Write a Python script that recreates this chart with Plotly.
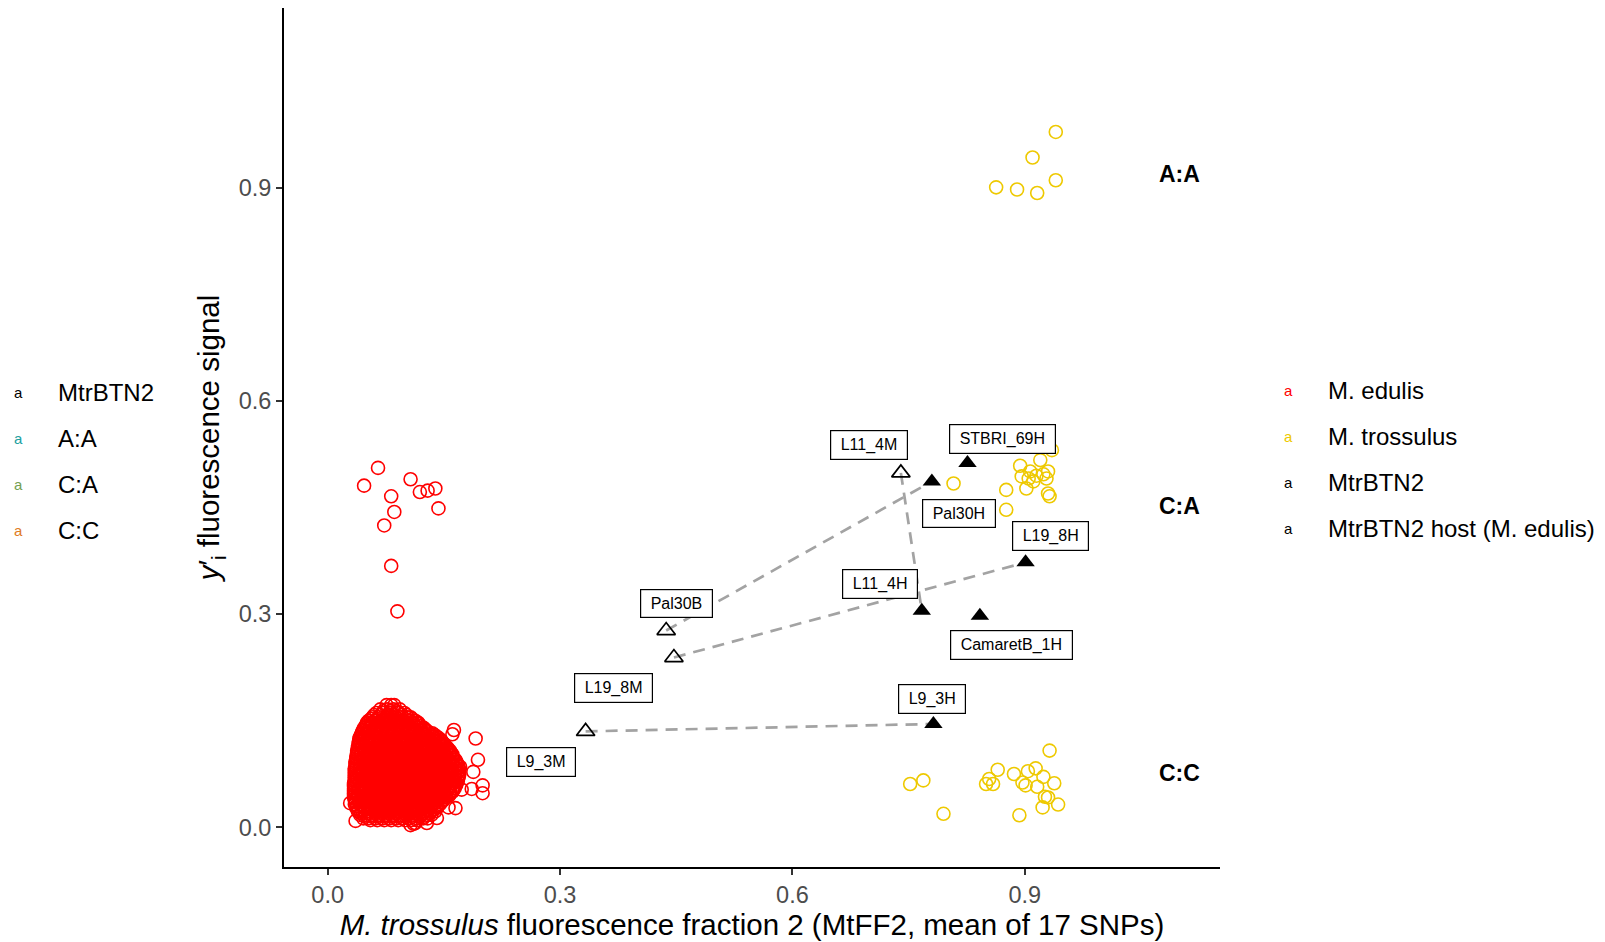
import plotly.graph_objects as go

# ---- data -------------------------------------------------------------------
# M. edulis: dense core written row by row (y of row, x values in row)
edulis_core_y = [0.172, 0.166, 0.161, 0.155, 0.150, 0.145, 0.140, 0.135, 0.130, 0.125,
                 0.120, 0.115, 0.110, 0.105, 0.100, 0.095, 0.090, 0.085, 0.080, 0.075,
                 0.070, 0.065, 0.060, 0.055, 0.050, 0.045, 0.040, 0.035, 0.030, 0.025,
                 0.020, 0.015, 0.010,
                 0.1635, 0.158, 0.1525, 0.1475, 0.1425, 0.1375, 0.1325, 0.1275, 0.1225,
                 0.1175, 0.1125, 0.1075, 0.1025, 0.0975, 0.0925, 0.0875, 0.0825, 0.0775,
                 0.0725, 0.0675, 0.0625, 0.0575, 0.0525, 0.0475, 0.0425, 0.0375, 0.0325,
                 0.0275, 0.0225, 0.0175, 0.0125]
edulis_core_x = [
    [0.076, 0.086],
    [0.068, 0.077, 0.085, 0.093],
    [0.063, 0.072, 0.081, 0.090, 0.099],
    [0.058, 0.066, 0.076, 0.085, 0.094, 0.103, 0.107],
    [0.053, 0.062, 0.071, 0.080, 0.089, 0.098, 0.106, 0.113],
    [0.050, 0.058, 0.067, 0.076, 0.085, 0.093, 0.102, 0.111, 0.118],
    [0.047, 0.055, 0.063, 0.072, 0.081, 0.090, 0.098, 0.107, 0.116, 0.124],
    [0.045, 0.051, 0.060, 0.068, 0.077, 0.086, 0.094, 0.103, 0.112, 0.121, 0.129],
    [0.043, 0.048, 0.056, 0.065, 0.073, 0.082, 0.091, 0.099, 0.108, 0.117, 0.126, 0.134, 0.138],
    [0.041, 0.046, 0.053, 0.061, 0.070, 0.079, 0.087, 0.096, 0.104, 0.113, 0.122, 0.130, 0.139, 0.144],
    [0.040, 0.049, 0.057, 0.066, 0.075, 0.083, 0.092, 0.101, 0.109, 0.118, 0.127, 0.135, 0.143, 0.148],
    [0.040, 0.045, 0.054, 0.062, 0.071, 0.079, 0.088, 0.097, 0.105, 0.114, 0.123, 0.131, 0.140, 0.148, 0.152],
    [0.039, 0.049, 0.058, 0.067, 0.075, 0.084, 0.093, 0.101, 0.110, 0.119, 0.127, 0.136, 0.145, 0.153, 0.156],
    [0.038, 0.044, 0.053, 0.062, 0.071, 0.080, 0.088, 0.097, 0.106, 0.114, 0.123, 0.132, 0.140, 0.149, 0.157, 0.159],
    [0.037, 0.048, 0.057, 0.066, 0.075, 0.084, 0.092, 0.101, 0.110, 0.118, 0.127, 0.136, 0.144, 0.153, 0.161],
    [0.037, 0.043, 0.052, 0.061, 0.070, 0.079, 0.088, 0.096, 0.105, 0.114, 0.122, 0.131, 0.140, 0.148, 0.157, 0.165],
    [0.036, 0.047, 0.056, 0.065, 0.074, 0.083, 0.092, 0.100, 0.109, 0.118, 0.126, 0.135, 0.144, 0.152, 0.161, 0.167],
    [0.036, 0.042, 0.051, 0.060, 0.069, 0.078, 0.087, 0.096, 0.104, 0.113, 0.122, 0.130, 0.139, 0.148, 0.156, 0.164, 0.169],
    [0.035, 0.046, 0.055, 0.064, 0.073, 0.082, 0.091, 0.100, 0.108, 0.117, 0.126, 0.134, 0.143, 0.152, 0.160, 0.170],
    [0.035, 0.041, 0.050, 0.059, 0.068, 0.077, 0.086, 0.095, 0.104, 0.112, 0.121, 0.130, 0.138, 0.147, 0.156, 0.164, 0.170],
    [0.035, 0.046, 0.055, 0.064, 0.073, 0.082, 0.091, 0.099, 0.108, 0.117, 0.125, 0.134, 0.143, 0.151, 0.160, 0.169],
    [0.035, 0.041, 0.050, 0.059, 0.068, 0.077, 0.086, 0.095, 0.103, 0.112, 0.121, 0.129, 0.138, 0.147, 0.155, 0.164, 0.168],
    [0.034, 0.045, 0.054, 0.063, 0.072, 0.081, 0.090, 0.099, 0.107, 0.116, 0.125, 0.133, 0.142, 0.151, 0.159, 0.166],
    [0.034, 0.040, 0.049, 0.058, 0.067, 0.076, 0.085, 0.094, 0.102, 0.111, 0.120, 0.128, 0.137, 0.146, 0.154, 0.162, 0.164],
    [0.034, 0.044, 0.053, 0.062, 0.071, 0.080, 0.089, 0.098, 0.106, 0.115, 0.124, 0.132, 0.141, 0.150, 0.158, 0.161],
    [0.034, 0.040, 0.049, 0.058, 0.067, 0.076, 0.084, 0.093, 0.102, 0.110, 0.119, 0.128, 0.136, 0.145, 0.153, 0.157],
    [0.035, 0.044, 0.053, 0.062, 0.071, 0.080, 0.089, 0.097, 0.106, 0.115, 0.123, 0.132, 0.141, 0.150],
    [0.036, 0.041, 0.050, 0.059, 0.067, 0.076, 0.085, 0.094, 0.102, 0.111, 0.120, 0.128, 0.137, 0.146],
    [0.038, 0.046, 0.055, 0.064, 0.072, 0.081, 0.090, 0.099, 0.107, 0.116, 0.125, 0.133, 0.142],
    [0.040, 0.049, 0.058, 0.067, 0.076, 0.085, 0.093, 0.102, 0.111, 0.119, 0.128, 0.137],
    [0.043, 0.053, 0.062, 0.071, 0.080, 0.089, 0.098, 0.106, 0.115, 0.124, 0.132],
    [0.048, 0.057, 0.066, 0.075, 0.084, 0.093, 0.101, 0.110, 0.119, 0.125],
    [0.055, 0.064, 0.073, 0.082, 0.091, 0.100, 0.108, 0.115],
    # in-between rows
    [0.072, 0.081, 0.089],
    [0.060, 0.068, 0.077, 0.086, 0.095, 0.102],
    [0.056, 0.064, 0.073, 0.082, 0.091, 0.100, 0.109],
    [0.051, 0.058, 0.067, 0.075, 0.084, 0.093, 0.102, 0.110, 0.115],
    [0.049, 0.054, 0.062, 0.071, 0.080, 0.089, 0.097, 0.106, 0.114, 0.120],
    [0.046, 0.059, 0.068, 0.077, 0.085, 0.094, 0.103, 0.112, 0.120, 0.126],
    [0.044, 0.052, 0.060, 0.069, 0.078, 0.086, 0.095, 0.104, 0.113, 0.122, 0.131, 0.135],
    [0.042, 0.050, 0.058, 0.066, 0.075, 0.084, 0.093, 0.101, 0.110, 0.119, 0.128, 0.136, 0.141],
    [0.041, 0.045, 0.053, 0.062, 0.070, 0.079, 0.088, 0.096, 0.105, 0.114, 0.122, 0.131, 0.139, 0.146],
    [0.040, 0.050, 0.058, 0.067, 0.076, 0.085, 0.093, 0.102, 0.111, 0.120, 0.128, 0.137, 0.146, 0.150],
    [0.039, 0.044, 0.053, 0.062, 0.071, 0.080, 0.089, 0.097, 0.106, 0.115, 0.123, 0.132, 0.141, 0.149, 0.154],
    [0.038, 0.049, 0.058, 0.066, 0.075, 0.084, 0.092, 0.101, 0.110, 0.119, 0.127, 0.136, 0.144, 0.153, 0.158],
    [0.038, 0.043, 0.052, 0.061, 0.070, 0.079, 0.088, 0.097, 0.105, 0.114, 0.123, 0.132, 0.140, 0.149, 0.157, 0.161],
    [0.037, 0.048, 0.056, 0.065, 0.074, 0.083, 0.092, 0.100, 0.109, 0.118, 0.127, 0.135, 0.144, 0.153, 0.162],
    [0.036, 0.043, 0.052, 0.061, 0.070, 0.079, 0.087, 0.096, 0.105, 0.113, 0.122, 0.131, 0.140, 0.148, 0.157, 0.166],
    [0.036, 0.047, 0.056, 0.065, 0.073, 0.082, 0.091, 0.100, 0.109, 0.117, 0.126, 0.135, 0.143, 0.152, 0.161, 0.168],
    [0.035, 0.042, 0.051, 0.060, 0.069, 0.078, 0.087, 0.095, 0.104, 0.113, 0.121, 0.130, 0.139, 0.148, 0.156, 0.165, 0.169],
    [0.035, 0.046, 0.055, 0.064, 0.073, 0.082, 0.091, 0.099, 0.108, 0.117, 0.126, 0.134, 0.143, 0.152, 0.160, 0.168],
    [0.035, 0.041, 0.050, 0.059, 0.068, 0.077, 0.086, 0.095, 0.103, 0.112, 0.121, 0.129, 0.138, 0.147, 0.156, 0.165, 0.169],
    [0.035, 0.046, 0.055, 0.063, 0.072, 0.081, 0.090, 0.099, 0.107, 0.116, 0.125, 0.134, 0.142, 0.151, 0.160, 0.167],
    [0.034, 0.041, 0.050, 0.059, 0.068, 0.076, 0.085, 0.094, 0.103, 0.111, 0.120, 0.129, 0.138, 0.146, 0.155, 0.163],
    [0.034, 0.045, 0.054, 0.063, 0.072, 0.081, 0.089, 0.098, 0.107, 0.116, 0.124, 0.133, 0.142, 0.150, 0.159, 0.164],
    [0.034, 0.040, 0.049, 0.058, 0.067, 0.076, 0.085, 0.094, 0.102, 0.111, 0.120, 0.128, 0.137, 0.146, 0.155, 0.162],
    [0.034, 0.045, 0.053, 0.062, 0.071, 0.080, 0.089, 0.098, 0.106, 0.115, 0.124, 0.133, 0.141, 0.150, 0.158],
    [0.034, 0.040, 0.049, 0.058, 0.067, 0.075, 0.084, 0.093, 0.102, 0.110, 0.119, 0.128, 0.137, 0.145, 0.153],
    [0.035, 0.044, 0.053, 0.062, 0.071, 0.080, 0.089, 0.097, 0.106, 0.115, 0.123, 0.132, 0.141, 0.149],
    [0.035, 0.041, 0.050, 0.059, 0.067, 0.076, 0.085, 0.094, 0.102, 0.111, 0.120, 0.128, 0.137, 0.145],
    [0.037, 0.046, 0.055, 0.064, 0.072, 0.081, 0.090, 0.099, 0.107, 0.116, 0.125, 0.133, 0.141],
    [0.039, 0.045, 0.054, 0.063, 0.071, 0.080, 0.089, 0.098, 0.106, 0.115, 0.124, 0.132, 0.139],
    [0.042, 0.049, 0.058, 0.067, 0.076, 0.085, 0.093, 0.102, 0.111, 0.119, 0.128, 0.134],
    [0.046, 0.053, 0.062, 0.071, 0.080, 0.089, 0.097, 0.106, 0.115, 0.123, 0.129],
    [0.051, 0.060, 0.069, 0.078, 0.087, 0.096, 0.104, 0.112, 0.120],
]
# M. edulis: scattered points around the core and the upper group (C:A)
edulis_out_x = [0.082, 0.091, 0.117, 0.125, 0.163, 0.161, 0.191, 0.194, 0.188, 0.200,
                0.200, 0.186, 0.165, 0.111, 0.107, 0.113, 0.036, 0.029, 0.128, 0.141,
                0.156, 0.173, 0.171, 0.145,
                0.065, 0.047, 0.107, 0.082, 0.119, 0.129, 0.139, 0.143, 0.086, 0.073,
                0.082, 0.090]
edulis_out_y = [0.172, 0.162, 0.147, 0.138, 0.137, 0.131, 0.125, 0.095, 0.078, 0.059,
                0.048, 0.054, 0.027, 0.005, 0.003, 0.006, 0.009, 0.034, 0.006, 0.013,
                0.028, 0.053, 0.085, 0.123,
                0.506, 0.481, 0.490, 0.466, 0.472, 0.474, 0.477, 0.449, 0.444, 0.425,
                0.368, 0.304]

# M. trossulus (A:A, C:A, C:C groups)
tross_x = [0.940, 0.910, 0.940, 0.863, 0.890, 0.916,
           0.808, 0.935, 0.920, 0.894, 0.907, 0.930, 0.896, 0.905, 0.915, 0.924,
           0.911, 0.928, 0.902, 0.930, 0.932, 0.876, 0.876,
           0.932, 0.769, 0.752, 0.795, 0.865, 0.854, 0.850, 0.859, 0.886, 0.904,
           0.914, 0.897, 0.901, 0.924, 0.916, 0.938, 0.926, 0.930, 0.923, 0.943, 0.893]
tross_y = [0.979, 0.943, 0.911, 0.901, 0.898, 0.893,
           0.484, 0.531, 0.517, 0.509, 0.501, 0.501, 0.494, 0.491, 0.495, 0.497,
           0.487, 0.491, 0.477, 0.470, 0.466, 0.475, 0.447,
           0.108, 0.066, 0.061, 0.019, 0.081, 0.068, 0.061, 0.061, 0.075, 0.079,
           0.083, 0.063, 0.059, 0.071, 0.057, 0.062, 0.043, 0.042, 0.028, 0.032, 0.017]

# MtrBTN2 (cancer) samples and their hosts
cancer_names = ["L9_3M", "L19_8M", "Pal30B", "L11_4M"]
cancer_x = [0.333, 0.447, 0.437, 0.740]
cancer_y = [0.135, 0.239, 0.277, 0.499]

host_names = ["L9_3H", "L19_8H", "Pal30H", "L11_4H", "STBRI_69H", "CamaretB_1H"]
host_x = [0.782, 0.901, 0.780, 0.767, 0.826, 0.842]
host_y = [0.1455, 0.373, 0.487, 0.305, 0.513, 0.298]

pairs = [("L9_3M", "L9_3H"), ("L19_8M", "L19_8H"), ("Pal30B", "Pal30H"), ("L11_4M", "L11_4H")]

genotype_labels = ["A:A", "C:A", "C:C"]
genotype_x = [1.1, 1.1, 1.1]
genotype_y = [0.92, 0.453, 0.077]

# ---- style --------------------------------------------------------------------
FONT = "Liberation Sans, Arial, Helvetica, sans-serif"
RED = "#FF0000"
GOLD = "#EEC900"
LINE_GREY = "#A3A3A3"

# label box offsets (pixels) from their point, as placed in the reference
label_shift = {
    "L11_4M": (-32, 28), "STBRI_69H": (35, 24), "Pal30H": (27, -32),
    "L19_8H": (25, 26), "L11_4H": (-42, 27), "Pal30B": (10, 27),
    "CamaretB_1H": (32, -29), "L19_8M": (-60, -30), "L9_3H": (-1, 25),
    "L9_3M": (-45, -31),
}

W, H = 1605, 942
M_L, M_R, M_T, M_B = 284, 385, 8, 75


def px_paper(px, py):
    return (px - M_L) / (W - M_L - M_R), (H - M_B - py) / (H - M_T - M_B)


ed_x, ed_y = [], []
for yv, row in zip(edulis_core_y, edulis_core_x):
    ed_x += row
    ed_y += [yv] * len(row)
ed_x += edulis_out_x
ed_y += edulis_out_y

fig = go.Figure()

circle = dict(symbol="circle-open", size=13, line=dict(width=1.6))
fig.add_trace(go.Scatter(x=ed_x, y=ed_y, mode="markers", name="M. edulis",
                         marker=dict(color=RED, **circle)))
fig.add_trace(go.Scatter(x=tross_x, y=tross_y, mode="markers", name="M. trossulus",
                         marker=dict(color=GOLD, **circle)))

pos = {n: (x, y) for n, x, y in zip(cancer_names, cancer_x, cancer_y)}
pos.update({n: (x, y) for n, x, y in zip(host_names, host_x, host_y)})
lx, ly = [], []
for a, b in pairs:
    lx += [pos[a][0], pos[b][0], None]
    ly += [pos[a][1], pos[b][1], None]
fig.add_trace(go.Scatter(x=lx, y=ly, mode="lines", hoverinfo="skip",
                         line=dict(color=LINE_GREY, width=2.7, dash="12px,8px")))

fig.add_trace(go.Scatter(x=cancer_x, y=cancer_y, mode="markers", name="MtrBTN2",
                         text=cancer_names,
                         marker=dict(symbol="triangle-up-open", size=16, color="black",
                                     line=dict(width=1.7))))
fig.add_trace(go.Scatter(x=host_x, y=host_y, mode="markers", name="MtrBTN2 host (M. edulis)",
                         text=host_names,
                         marker=dict(symbol="triangle-up", size=16, color="black")))

# sample label boxes
for n in cancer_names + host_names:
    dx, dy = label_shift[n]
    fig.add_annotation(x=pos[n][0], y=pos[n][1], text="\u00a0" + n + "\u00a0", showarrow=False,
                       xshift=dx, yshift=dy, bgcolor="white", bordercolor="black",
                       borderwidth=1.2, borderpad=5,
                       font=dict(family=FONT, size=16, color="black"))

# genotype labels at the right of the panel
for t, x, y in zip(genotype_labels, genotype_x, genotype_y):
    fig.add_annotation(x=x, y=y, text=f"<b>{t}</b>", showarrow=False,
                       font=dict(family=FONT, size=23, color="black"))

# text-key legends (ggplot style "a" keys)
left_legend = [("MtrBTN2", "black"), ("A:A", "#21A0A0"), ("C:A", "#74A052"), ("C:C", "#E07B24")]
right_legend = [("M. edulis", RED), ("M. trossulus", GOLD), ("MtrBTN2", "black"),
                ("MtrBTN2 host (M. edulis)", "black")]
for items, key_px, txt_px, top_py in [(left_legend, 18, 56, 392), (right_legend, 1288, 1326, 390)]:
    for i, (lab, col) in enumerate(items):
        py = top_py + i * 46
        kx, ky = px_paper(key_px, py)
        tx, _ = px_paper(txt_px, py)
        fig.add_annotation(xref="paper", yref="paper", x=kx, y=ky, text="a",
                           showarrow=False, xanchor="center", yanchor="middle",
                           font=dict(family=FONT, size=15, color=col))
        fig.add_annotation(xref="paper", yref="paper", x=tx, y=ky, text=lab,
                           showarrow=False, xanchor="left", yanchor="middle",
                           font=dict(family=FONT, size=24, color="black"))

axis_common = dict(
    showgrid=False, zeroline=False, showline=True, linecolor="black", linewidth=1.8,
    ticks="outside", ticklen=6, tickwidth=1.5, tickcolor="#333333",
    tickvals=[0, 0.3, 0.6, 0.9], tickformat=".1f",
    tickfont=dict(family=FONT, size=23.5, color="#4D4D4D"),
)
fig.update_xaxes(range=[-0.0564, 1.152], **axis_common,
                 title=dict(text="<i>M. trossulus</i> fluorescence fraction 2 (MtFF2, mean of 17 SNPs)",
                            font=dict(family=FONT, size=29.5, color="black"), standoff=6))
fig.update_yaxes(range=[-0.0559, 1.1535], **axis_common,
                 title=dict(text="<i>y</i>′<sub>i</sub> fluorescence signal",
                            font=dict(family=FONT, size=29.5, color="black"), standoff=10))

fig.update_layout(
    width=W, height=H,
    margin=dict(l=M_L, r=M_R, t=M_T, b=M_B),
    plot_bgcolor="white", paper_bgcolor="white",
    showlegend=False,
    font=dict(family=FONT),
)

# the page body has a default 8px margin; drop it so the figure sits at the window origin
fig.write_html("out.html", config={"displayModeBar": False},
               post_script="document.body.style.margin='0';")
